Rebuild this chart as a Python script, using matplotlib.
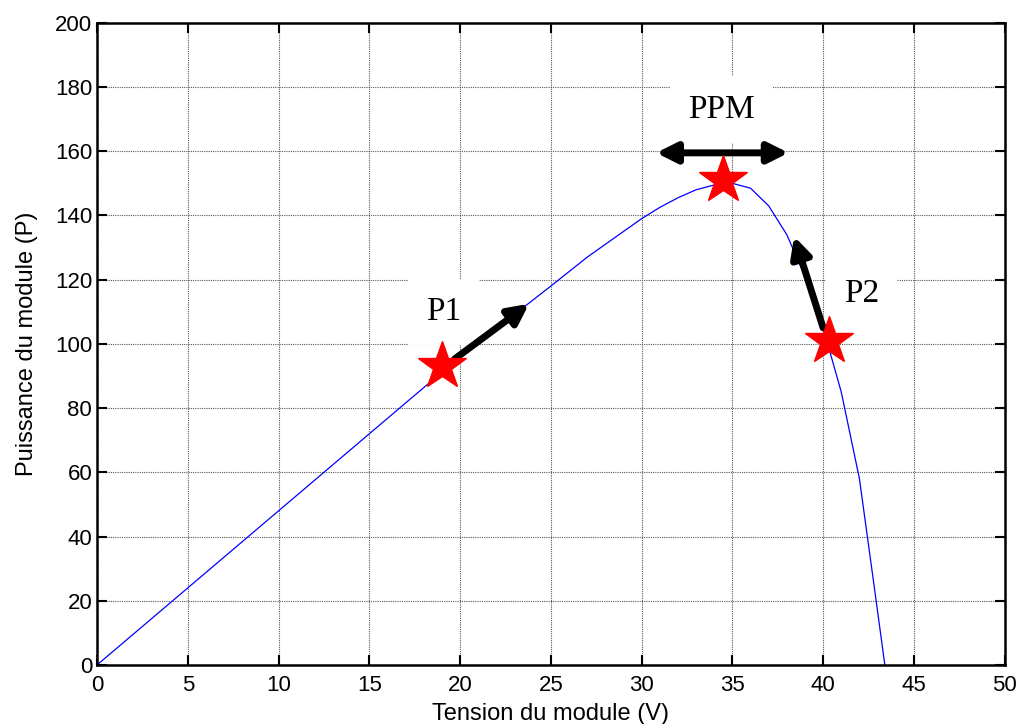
import numpy as np
import matplotlib.pyplot as plt

# courbe P(V) du module
v = [0, 5, 10, 15, 20, 25, 27, 29, 30, 31, 32, 33, 34, 35, 36, 37, 38, 39, 40, 41, 42, 42.8, 43.4]
p = [0, 24, 48, 72, 96, 118, 127, 135, 139, 142.5, 145.5, 148, 149.5, 150, 148.5, 143, 134, 121, 105, 85, 58, 25, 0]

# points marques
pts_x = [19, 34.5, 40.3]
pts_y = [93, 151, 101]
labels = ['P1', 'PPM', 'P2']
lab_x = [19.1, 34.4, 42.1]
lab_y = [110, 173, 115.5]

fig = plt.figure(figsize=(10.21, 7.24), dpi=100)
ax = fig.add_axes([0.095, 0.0815, 0.889, 0.887])

ax.plot(v, p, color='blue', lw=0.9)

ax.set_xlim(0, 50)
ax.set_ylim(0, 200)
ax.set_xticks(np.arange(0, 51, 5))
ax.set_yticks(np.arange(0, 201, 20))
ax.grid(True, color='0.35', linestyle=(0, (1, 1)), lw=0.8)
ax.tick_params(direction='in', top=True, right=True, length=7, width=1.5, labelsize=16)
ax.tick_params(axis='x', pad=7)
for s in ax.spines.values():
    s.set_linewidth(1.8)
for t in ax.get_xticklabels() + ax.get_yticklabels():
    t.set_fontfamily('Liberation Sans')

ax.set_xlabel('Tension du module (V)', fontsize=17, family='Liberation Sans', labelpad=5)
ax.set_ylabel('Puissance du module (P)', fontsize=17, family='Liberation Sans', labelpad=12)

for lx, ly, t in zip(lab_x, lab_y, labels):
    ax.text(lx, ly, t, fontsize=24, family='Liberation Serif', ha='center', va='center',
            bbox=dict(facecolor='white', edgecolor='none', pad=13), zorder=3)

arr = dict(arrowstyle='-|>', color='black', lw=5, mutation_scale=30, shrinkA=0, shrinkB=0)
ax.annotate('', xy=(23.8, 112.5), xytext=(19.7, 95.3), arrowprops=arr, zorder=4)
ax.annotate('', xy=(38.4, 133.5), xytext=(40.0, 105), arrowprops=arr, zorder=4)
arr2 = dict(arrowstyle='<|-|>', color='black', lw=5, mutation_scale=30, shrinkA=0, shrinkB=0)
ax.annotate('', xy=(38.1, 159.5), xytext=(30.8, 159.5), arrowprops=arr2, zorder=4)

ax.plot(pts_x, pts_y, '*', color='red', markersize=36, zorder=5)

fig.savefig('out.png', dpi=100)
